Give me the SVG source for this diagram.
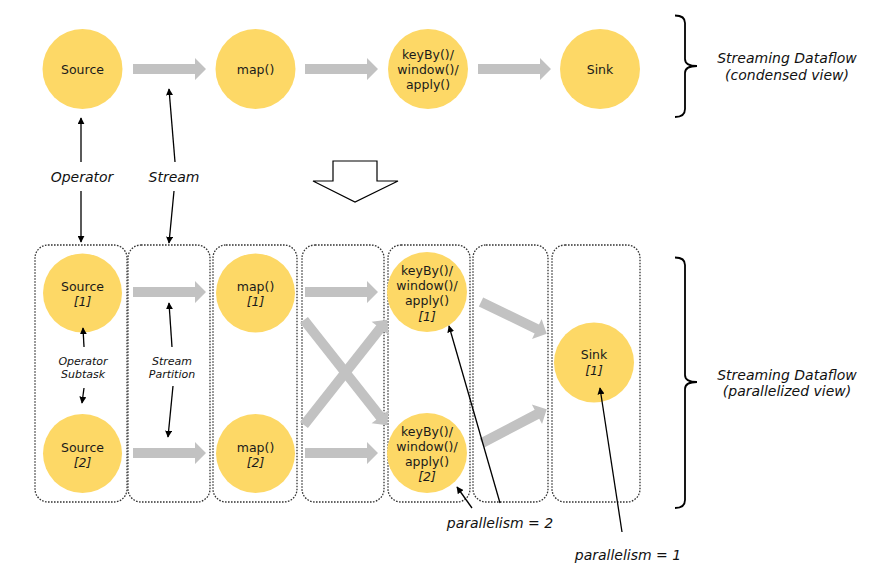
<svg xmlns="http://www.w3.org/2000/svg" xmlns:xlink="http://www.w3.org/1999/xlink" width="877" height="578" viewBox="0 0 877 578">
<style>
  .node { fill: #fdd866; }
  .nt { font-family: "DejaVu Sans", Verdana, sans-serif; font-size: 12.5px; fill: #1a1a1a; text-anchor: middle; }
  .it { font-style: italic; }
  .lbl { font-family: "DejaVu Sans", Verdana, sans-serif; font-size: 14px; font-style: italic; fill: #111; text-anchor: middle; }
  .slbl { font-family: "DejaVu Sans", Verdana, sans-serif; font-size: 11px; font-style: italic; fill: #111; text-anchor: middle; }
  .box { fill: none; stroke: #333; stroke-width: 1.3; stroke-dasharray: 1.6 1.4; }
  .flow { fill: #c2c2c2; }
  .thin { stroke: #000; stroke-width: 1.3; fill: none; marker-end: url(#ah); }
  .brace { fill: none; stroke: #000; stroke-width: 1.8; }
</style>
<defs>
  <marker id="ah" viewBox="0 0 10 10" refX="9" refY="5" markerWidth="7" markerHeight="7" orient="auto" markerUnits="userSpaceOnUse">
    <path d="M0,0 L10,5 L0,10 Z" fill="#000"/>
  </marker>
  <path id="a73" d="M0,-5 H62 V-11 L73,0 L62,11 V5 H0 Z"/>
  <path id="a134" d="M0,-5 H123 V-11 L134,0 L123,11 V5 H0 Z"/>
</defs>

<!-- dotted parallel boxes -->
<g id="boxes">
  <rect class="box" x="35" y="245" width="92" height="257" rx="13"/>
  <rect class="box" x="128" y="245" width="82" height="257" rx="13"/>
  <rect class="box" x="213" y="245" width="84" height="257" rx="13"/>
  <rect class="box" x="302" y="245" width="82" height="257" rx="13"/>
  <rect class="box" x="388" y="245" width="82" height="257" rx="13"/>
  <rect class="box" x="473" y="245" width="75" height="257" rx="13"/>
  <rect class="box" x="552" y="245" width="88" height="257" rx="13"/>
</g>

<!-- condensed view nodes -->
<g id="source">
  <circle class="node" cx="82.5" cy="69" r="40"/>
  <text class="nt" x="82.5" y="73.5">Source</text>
</g>
<g id="map">
  <circle class="node" cx="255.5" cy="69" r="40"/>
  <text class="nt" x="255.5" y="73.5">map()</text>
</g>
<g id="keyby">
  <circle class="node" cx="428" cy="69" r="40"/>
  <text class="nt" x="428" y="58.5">keyBy()/</text>
  <text class="nt" x="428" y="73.5">window()/</text>
  <text class="nt" x="428" y="88.5">apply()</text>
</g>
<g id="sink">
  <circle class="node" cx="600" cy="69" r="40"/>
  <text class="nt" x="600" y="73.5">Sink</text>
</g>

<!-- parallel view nodes -->
<g id="source1">
  <circle class="node" cx="82.5" cy="293" r="39.5"/>
  <text class="nt" x="82.5" y="290.5">Source</text>
  <text class="nt it" x="82.5" y="305.5">[1]</text>
</g>
<g id="source2">
  <circle class="node" cx="82.5" cy="453.5" r="39.5"/>
  <text class="nt" x="82.5" y="451.5">Source</text>
  <text class="nt it" x="82.5" y="467">[2]</text>
</g>
<g id="map1">
  <circle class="node" cx="255.5" cy="293" r="39.5"/>
  <text class="nt" x="255.5" y="290.5">map()</text>
  <text class="nt it" x="255.5" y="305.5">[1]</text>
</g>
<g id="map2">
  <circle class="node" cx="255.5" cy="453.5" r="39.5"/>
  <text class="nt" x="255.5" y="451.5">map()</text>
  <text class="nt it" x="255.5" y="467">[2]</text>
</g>
<g id="keyby1">
  <circle class="node" cx="427" cy="292" r="40"/>
  <text class="nt" x="427" y="274.5">keyBy()/</text>
  <text class="nt" x="427" y="290">window()/</text>
  <text class="nt" x="427" y="305">apply()</text>
  <text class="nt it" x="427" y="320.5">[1]</text>
</g>
<g id="keyby2">
  <circle class="node" cx="427" cy="453" r="40"/>
  <text class="nt" x="427" y="436">keyBy()/</text>
  <text class="nt" x="427" y="451">window()/</text>
  <text class="nt" x="427" y="466">apply()</text>
  <text class="nt it" x="427" y="481">[2]</text>
</g>
<g id="sink1">
  <circle class="node" cx="594" cy="362.5" r="40"/>
  <text class="nt" x="594" y="359">Sink</text>
  <text class="nt it" x="594" y="375">[1]</text>
</g>

<!-- connectors -->
<g id="connectors">
  <g class="flow">
    <use xlink:href="#a73" transform="translate(133,69)"/>
    <use xlink:href="#a73" transform="translate(305,69)"/>
    <use xlink:href="#a73" transform="translate(478,69)"/>
    <use xlink:href="#a73" transform="translate(133,292)"/>
    <use xlink:href="#a73" transform="translate(133,453)"/>
    <use xlink:href="#a73" transform="translate(305,292)"/>
    <use xlink:href="#a73" transform="translate(305,453)"/>
    <use xlink:href="#a134" transform="translate(304,320) rotate(51.7)"/>
    <use xlink:href="#a134" transform="translate(304,425) rotate(-51.7)"/>
    <use xlink:href="#a73" transform="translate(481,302) rotate(25.8)"/>
    <use xlink:href="#a73" transform="translate(482,443) rotate(-27.6)"/>
  </g>
  <line class="thin" x1="81" y1="162" x2="81" y2="118"/>
  <line class="thin" x1="81" y1="191" x2="81" y2="242"/>
  <line class="thin" x1="175" y1="162" x2="169" y2="89"/>
  <line class="thin" x1="174" y1="191" x2="169" y2="243"/>
  <line class="thin" x1="84" y1="347" x2="83" y2="328"/>
  <line class="thin" x1="84" y1="388" x2="82" y2="403"/>
  <line class="thin" x1="172" y1="347" x2="169" y2="303"/>
  <line class="thin" x1="173" y1="386" x2="168" y2="437"/>
  <line class="thin" x1="500" y1="503" x2="449" y2="326"/>
  <line class="thin" x1="472" y1="508" x2="457" y2="487"/>
  <line class="thin" x1="622" y1="532" x2="600" y2="388"/>
  <polygon points="333,161 377,161 377,181 398,181 355,202 313,181 333,181" fill="#fff" stroke="#000" stroke-width="1.2"/>
  <path class="brace" d="M675,15.5 Q685,15.5 685,23 V59 Q685,66 697,66 Q685,66 685,73 V109 Q685,117 675,117"/>
  <path class="brace" d="M675,257.5 Q685,257.5 685,265 V375 Q685,382 697,382 Q685,382 685,389 V500 Q685,508 675,508"/>
</g>

<!-- labels -->
<g id="labels">
  <text class="lbl" x="82" y="182">Operator</text>
  <text class="lbl" x="174" y="182">Stream</text>
  <text class="slbl" x="83" y="365">Operator</text>
  <text class="slbl" x="83" y="378">Subtask</text>
  <text class="slbl" x="172" y="365">Stream</text>
  <text class="slbl" x="172" y="378">Partition</text>
  <text class="lbl" x="787" y="63">Streaming Dataflow</text>
  <text class="lbl" x="787" y="80">(condensed view)</text>
  <text class="lbl" x="787" y="380">Streaming Dataflow</text>
  <text class="lbl" x="787" y="396">(parallelized view)</text>
  <text class="lbl" x="500" y="528">parallelism = 2</text>
  <text class="lbl" x="628" y="560">parallelism = 1</text>
</g>
</svg>
